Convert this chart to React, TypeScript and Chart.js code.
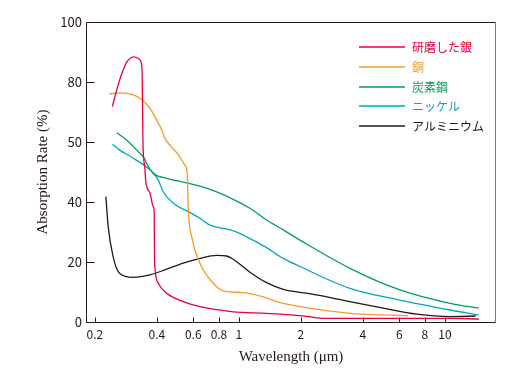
import React, { useEffect, useRef } from "react";
import { Chart, registerables } from "chart.js";

Chart.register(...registerables);

// Axis ticks
const wavelengthTicks = [0.2, 0.4, 0.6, 0.8, 1, 2, 4, 6, 8, 10];
const wavelengthTickLabels = ["0.2", "0.4", "0.6", "0.8", "1", "2", "4", "6", "8", "10"];
const rateTicks = [0, 20, 40, 60, 80, 100];
const rateTickLabels = ["0", "20", "40", "50", "80", "100"];

// Series names
const seriesNames = ["研磨した銀", "銅", "炭素鋼", "ニッケル", "アルミニウム"];
const seriesColors = ["#e8003a", "#f39a2b", "#00a05a", "#00a6c4", "#231815"];

// 研磨した銀 (polished silver)
const silverX = [0.243, 0.255, 0.274, 0.29, 0.307, 0.325, 0.334, 0.339, 0.3405, 0.342, 0.343, 0.35, 0.353, 0.37, 0.384, 0.388, 0.389, 0.391, 0.406, 0.446, 0.537, 0.647, 0.939, 1.363, 1.978, 2.67, 5.0, 10.6, 14.6];
const silverY = [71.8, 77.3, 84, 87.3, 88.4, 87.9, 86.8, 83, 71.8, 60.7, 57.3, 50.7, 46.8, 43, 38.4, 36.8, 24, 18.4, 12.9, 9.6, 6.8, 5.1, 3.4, 2.9, 2.1, 1.2, 1.2, 1.2, 1.0];

// 銅 (copper)
const copperX = [0.235, 0.264, 0.307, 0.337, 0.37, 0.399, 0.422, 0.437, 0.471, 0.508, 0.547, 0.561, 0.568, 0.59, 0.647, 0.751, 0.839, 1.049, 1.312, 1.524, 1.978, 3.46, 6.64];
const copperY = [76, 76.4, 75.7, 74.2, 71.2, 67.3, 64, 61.2, 58.4, 55.7, 52.3, 49.6, 37.3, 28.4, 19.6, 12.9, 10.4, 9.8, 8.4, 6.8, 5.1, 2.9, 2.1];

// 炭素鋼 (carbon steel)
const steelX = [0.255, 0.285, 0.319, 0.35, 0.356, 0.384, 0.446, 0.557, 0.647, 0.78, 0.939, 1.131, 1.363, 1.641, 1.978, 3.46, 6.05, 10.6, 14.6];
const steelY = [63.1, 60.7, 57.3, 54.2, 52.9, 49.6, 47.9, 46.4, 45.3, 43.4, 40.9, 37.9, 34, 30.7, 27.3, 17.9, 10.7, 6.2, 4.6];

// ニッケル (nickel)
const nickelX = [0.243, 0.264, 0.307, 0.37, 0.406, 0.429, 0.48, 0.568, 0.647, 0.723, 0.839, 0.939, 1.09, 1.363, 1.641, 1.978, 3.46, 6.05, 10.6, 14.6];
const nickelY = [59.2, 57.3, 54.6, 50.7, 47.3, 43.4, 39.6, 36.8, 34.6, 32.3, 31.2, 30.4, 28.4, 24.8, 21.2, 18.5, 11.2, 7.3, 4, 2.3];

// アルミニウム (aluminium)
const aluminiumX = [0.226, 0.232, 0.245, 0.264, 0.307, 0.37, 0.446, 0.537, 0.647, 0.78, 0.872, 0.939, 1.131, 1.363, 1.641, 2.13, 2.67, 3.46, 5.02, 7.29, 10.6, 14.1];
const aluminiumY = [41.8, 31.8, 21.8, 16.2, 14.9, 15.7, 17.6, 19.6, 21.2, 22.2, 22, 20.9, 16.6, 13.1, 10.9, 9.6, 8.4, 6.8, 4.6, 2.6, 1.8, 2];

const seriesX = [silverX, copperX, steelX, nickelX, aluminiumX];
const seriesY = [silverY, copperY, steelY, nickelY, aluminiumY];

const INK = "#231815";
const TICK_FONT = "'Noto Sans CJK JP', 'Noto Sans', sans-serif";
const SERIF = "'Liberation Serif', 'DejaVu Serif', serif";

const framePlugin = {
  id: "frame",
  afterDraw(chart: any) {
    const { ctx, chartArea, scales } = chart;
    const { left, right, top, bottom } = chartArea;
    const xs = scales.x;
    const ys = scales.y;
    ctx.save();
    ctx.lineWidth = 1;
    const L = Math.round(left) + 0.5;
    const R = Math.round(right) - 0.5;
    const T = Math.round(top) + 0.5;
    const B = Math.round(bottom) + 0.5;
    ctx.strokeStyle = "#7a7a7a";
    ctx.beginPath();
    ctx.moveTo(R, T);
    ctx.lineTo(R, B);
    ctx.stroke();
    ctx.strokeStyle = INK;
    ctx.beginPath();
    ctx.moveTo(R, T);
    ctx.lineTo(L, T);
    ctx.lineTo(L, B);
    ctx.lineTo(R, B);
    ctx.stroke();
    ctx.beginPath();
    rateTicks.forEach((v) => {
      const py = Math.round(ys.getPixelForValue(v)) + 0.5;
      ctx.moveTo(L, py);
      ctx.lineTo(L + 8, py);
    });
    wavelengthTicks.forEach((v) => {
      const px = Math.round(xs.getPixelForValue(v)) + 0.5;
      ctx.moveTo(px, B);
      ctx.lineTo(px, B - 5);
    });
    ctx.stroke();

    // legend
    const lx0 = 359;
    const lx1 = 405;
    const tx = 412;
    const y0 = 47;
    const dy = 19.8;
    ctx.font = `12px ${TICK_FONT}`;
    ctx.textBaseline = "middle";
    ctx.textAlign = "left";
    seriesNames.forEach((name, i) => {
      const yy = Math.round(y0 + i * dy);
      const col = seriesColors[i];
      ctx.strokeStyle = col;
      ctx.lineWidth = 1.4;
      ctx.beginPath();
      ctx.moveTo(lx0, yy);
      ctx.lineTo(lx1, yy);
      ctx.stroke();
      ctx.fillStyle = col;
      ctx.fillText(name, tx, yy + 0.5);
    });
    ctx.restore();
  },
};

export default function App() {
  const ref = useRef<HTMLCanvasElement | null>(null);
  useEffect(() => {
    document.body.style.margin = "0";
    const canvas = ref.current;
    if (!canvas) return;
    const datasets = seriesNames.map((name, i) => ({
      label: name,
      data: seriesX[i].map((x, j) => ({ x, y: seriesY[i][j] })),
      borderColor: seriesColors[i],
      backgroundColor: seriesColors[i],
      borderWidth: 1.3,
      pointRadius: 0,
      cubicInterpolationMode: "monotone" as const,
      fill: false,
    }));
    const chart = new Chart(canvas, {
      type: "line",
      data: { datasets },
      options: {
        responsive: false,
        animation: false,
        devicePixelRatio: 1,
        layout: { padding: { left: 0, top: 22, right: 31, bottom: 0 } },
        plugins: { legend: { display: false }, tooltip: { enabled: false } },
        scales: {
          x: {
            type: "logarithmic",
            min: 0.181,
            max: 17.7,
            afterFit: (s: any) => {
              s.height = 57;
            },
            afterBuildTicks: (s: any) => {
              s.ticks = wavelengthTicks.map((v) => ({ value: v }));
            },
            grid: { display: false, drawTicks: false },
            border: { display: false },
            ticks: {
              autoSkip: false,
              maxRotation: 0,
              padding: 5,
              color: INK,
              font: { family: TICK_FONT, size: 12 },
              callback: (v: any) => {
                const k = wavelengthTicks.indexOf(Number(v));
                return k >= 0 ? wavelengthTickLabels[k] : "";
              },
            },
            title: {
              display: true,
              text: "Wavelength (μm)",
              color: INK,
              font: { family: SERIF, size: 15 },
              padding: { top: 0, bottom: 13 },
            },
          },
          y: {
            type: "linear",
            min: 0,
            max: 100,
            afterFit: (s: any) => {
              s.width = 86;
            },
            afterBuildTicks: (s: any) => {
              s.ticks = rateTicks.map((v) => ({ value: v }));
            },
            grid: { display: false, drawTicks: false },
            border: { display: false },
            ticks: {
              padding: 4,
              color: INK,
              font: { family: TICK_FONT, size: 13 },
              callback: (v: any) => {
                const k = rateTicks.indexOf(Number(v));
                return k >= 0 ? rateTickLabels[k] : "";
              },
            },
            title: {
              display: true,
              text: "Absorption Rate (%)",
              color: INK,
              font: { family: SERIF, size: 15 },
              padding: { top: 34, bottom: 0 },
            },
          },
        },
      },
      plugins: [framePlugin],
    });
    return () => chart.destroy();
  }, []);
  return (
    <div style={{ width: 527, height: 379 }}>
      <canvas ref={ref} width={527} height={379} style={{ display: "block" }} />
    </div>
  );
}
